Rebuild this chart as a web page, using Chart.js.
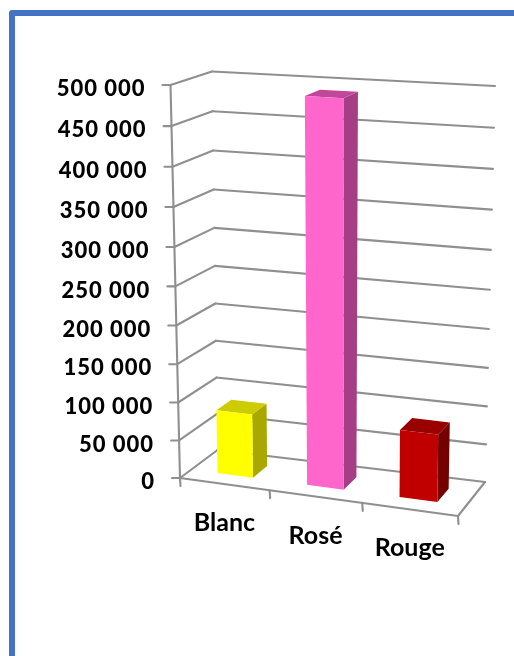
<!DOCTYPE html>
<html>
<head>
<meta charset="utf-8">
<title>Blanc Rosé Rouge</title>
<script src="https://cdn.jsdelivr.net/npm/chart.js@4/dist/chart.umd.min.js"></script>
<style>
    html, body { margin: 0; padding: 0; background: #fff; overflow: hidden; }
    #frame {
        position: absolute; left: 9px; top: 10px; width: 700px; height: 900px;
        border: 6px solid #4472c4; border-radius: 3px;
    }
    #chart { position: absolute; left: 0; top: 0; }
</style>
</head>
<body>
<div id="frame"></div>
<canvas id="chart" width="514" height="656"></canvas>
<script>
const categories = ['Blanc', 'Rosé', 'Rouge'];
const volumes = [84000, 491000, 87000];
const axisMax = 500000;
const axisStep = 50000;

// Face colours for each bar
const frontColors = ['#ffff00', '#ff66cc', '#c00000'];
const topColors = ['#cccc00', '#c0479a', '#990000'];
const sideColors = ['#a8a800', '#a53e85', '#750000'];

// Corners of the 3D box on the page: top-left, top-right, bottom-right, bottom-left
const frontWall = [[170.5, 85], [463, 104], [458, 516], [180, 478]];
const backWall = [[212, 71.5], [495, 86], [485, 482], [217.5, 450]];
const barDepth = [0.3, 0.7];
const gridColor = '#8f8f8f';
const tickFont = '900 22px Lato';
const categoryFont = 'bold 25px Lato';

// Homography from the unit square to a quad
function quadMap(q) {
    const [p0, p1, p2, p3] = q;
    const dx1 = p1[0] - p2[0], dx2 = p3[0] - p2[0], sx = p0[0] - p1[0] + p2[0] - p3[0];
    const dy1 = p1[1] - p2[1], dy2 = p3[1] - p2[1], sy = p0[1] - p1[1] + p2[1] - p3[1];
    const d = dx1 * dy2 - dx2 * dy1;
    const g = (sx * dy2 - dx2 * sy) / d;
    const h = (dx1 * sy - sx * dy1) / d;
    const a = p1[0] - p0[0] + g * p1[0], b = p3[0] - p0[0] + h * p3[0];
    const e = p1[1] - p0[1] + g * p1[1], f = p3[1] - p0[1] + h * p3[1];
    return (u, v) => {
        const w = g * u + h * v + 1;
        return [(a * u + b * v + p0[0]) / w, (e * u + f * v + p0[1]) / w];
    };
}

const frontMap = quadMap(frontWall);
const backMap = quadMap(backWall);

// u: across, v: down from the top of the axis, w: depth (0 front, 1 back)
function project(u, v, w) {
    const f = frontMap(u, v);
    const b = backMap(u, v);
    return [f[0] + (b[0] - f[0]) * w, f[1] + (b[1] - f[1]) * w];
}

function line(ctx, a, b) {
    ctx.beginPath();
    ctx.moveTo(a[0], a[1]);
    ctx.lineTo(b[0], b[1]);
    ctx.stroke();
}

function face(ctx, points, color) {
    ctx.fillStyle = color;
    ctx.beginPath();
    points.forEach((p, i) => i ? ctx.lineTo(p[0], p[1]) : ctx.moveTo(p[0], p[1]));
    ctx.closePath();
    ctx.fill();
}

// Draws the scales and bars in perspective from the positions Chart.js worked out
const box3d = {
    id: 'box3d',
    beforeDatasetsDraw(chart) {
        const ctx = chart.ctx;
        const area = chart.chartArea;
        const xScale = chart.scales.x;
        const yScale = chart.scales.y;
        const toU = px => (px - area.left) / area.width;
        const toV = py => (py - area.top) / area.height;

        ctx.save();
        ctx.strokeStyle = gridColor;
        ctx.lineWidth = 2.1;
        ctx.lineCap = 'round';
        ctx.lineJoin = 'round';

        // grid lines on the side and back walls, with ticks and labels
        yScale.ticks.forEach((tick, i) => {
            const v = toV(yScale.getPixelForTick(i));
            const corner = project(0, v, 0);
            line(ctx, corner, project(0, v, 1));
            line(ctx, project(0, v, 1), project(1, v, 1));
            const tickEnd = [corner[0] - 8, corner[1]];
            line(ctx, corner, tickEnd);
            ctx.fillStyle = '#000';
            ctx.font = tickFont;
            ctx.letterSpacing = '1px';
            ctx.textAlign = 'right';
            ctx.textBaseline = 'middle';
            ctx.fillText(tick.label, tickEnd[0] - 17, tickEnd[1] + 4);
        });

        // axis line and floor outline
        line(ctx, project(0, 0, 0), project(0, 1, 0));
        line(ctx, project(0, 1, 0), project(1, 1, 0));
        line(ctx, project(1, 1, 0), project(1, 1, 1));

        // category ticks and labels
        for (let i = 0; i <= categories.length; i++) {
            const p = project(i / categories.length, 1, 0);
            line(ctx, p, [p[0] + 0.5, p[1] + 8]);
        }
        ctx.font = categoryFont;
        ctx.letterSpacing = '0px';
        ctx.textAlign = 'center';
        categories.forEach((name, i) => {
            const p = project(toU(xScale.getPixelForTick(i)), 1, 0);
            ctx.fillText(name, p[0], p[1] + 39);
        });

        // bars
        chart.getDatasetMeta(0).data.forEach((bar, i) => {
            const u0 = toU(bar.x - bar.width / 2);
            const u1 = toU(bar.x + bar.width / 2);
            const vTop = toV(bar.y);
            const vBase = toV(bar.base);
            const [w0, w1] = barDepth;
            face(ctx, [project(u1, vTop, w0), project(u1, vTop, w1), project(u1, vBase, w1), project(u1, vBase, w0)], sideColors[i]);
            face(ctx, [project(u0, vTop, w0), project(u1, vTop, w0), project(u1, vTop, w1), project(u0, vTop, w1)], topColors[i]);
            face(ctx, [project(u0, vTop, w0), project(u1, vTop, w0), project(u1, vBase, w0), project(u0, vBase, w0)], frontColors[i]);
        });
        ctx.restore();
        return false;
    }
};

new Chart(document.getElementById('chart').getContext('2d'), {
    type: 'bar',
    data: {
        labels: categories,
        datasets: [{
            label: 'Volume',
            data: volumes,
            backgroundColor: frontColors,
            barPercentage: 0.4,
            categoryPercentage: 1
        }]
    },
    options: {
        responsive: false,
        animation: false,
        plugins: { legend: { display: false }, tooltip: { enabled: false } },
        scales: {
            x: { display: false },
            y: {
                display: false,
                min: 0,
                max: axisMax,
                ticks: {
                    stepSize: axisStep,
                    autoSkip: false,
                    callback: value => String(value).replace(/\B(?=(\d{3})+$)/g, ' ')
                }
            }
        }
    },
    plugins: [box3d]
});
</script>
</body>
</html>
